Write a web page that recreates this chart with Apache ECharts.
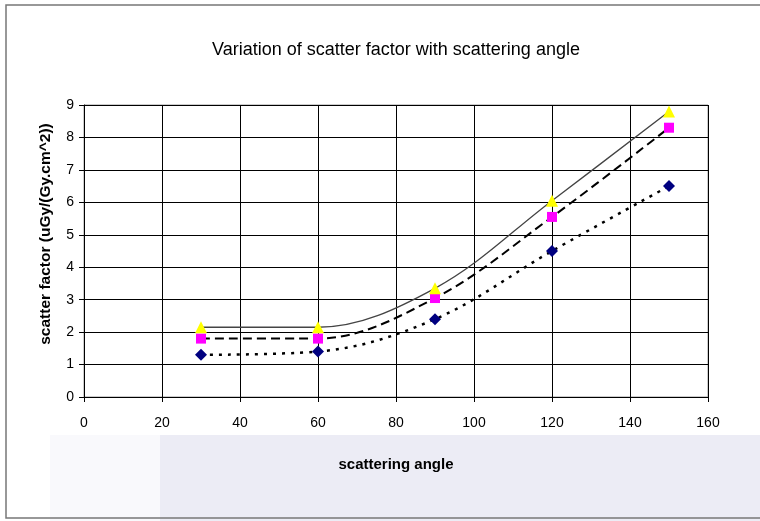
<!DOCTYPE html>
<html><head><meta charset="utf-8">
<script src="https://cdn.jsdelivr.net/npm/echarts@6/dist/echarts.min.js"></script>
<style>html,body{margin:0;padding:0;background:#fff}#c{width:760px;height:521px}</style>
</head><body><div id="c"></div>
<script>
const angles = [30, 60, 90, 120, 150];
const seriesTriangle = [2.15, 2.15, 3.35, 6.05, 8.8];
const seriesSquare = [1.8, 1.8, 3.05, 5.55, 8.3];
const seriesDiamond = [1.3, 1.4, 2.4, 4.5, 6.5];
const xTicks = [0, 20, 40, 60, 80, 100, 120, 140, 160];
const yTicks = [0, 1, 2, 3, 4, 5, 6, 7, 8, 9];

const FONT = '"Liberation Sans", Arial, sans-serif';
const pair = a => angles.map((x, i) => [x, a[i]]);

const chart = echarts.init(document.getElementById('c'), null, {renderer: 'canvas'});
chart.setOption({
  animation: false,
  backgroundColor: '#fff',
  title: {
    text: 'Variation of scatter factor with scattering angle',
    left: 391, top: 36, textAlign: 'center',
    textStyle: {fontFamily: FONT, fontSize: 18, fontWeight: 'normal', color: '#000'}
  },
  graphic: [
    {type: 'rect', silent: true, z: -11, shape: {x: 50, y: 435, width: 110, height: 90}, style: {fill: '#f9f9fc'}},
    {type: 'rect', silent: true, z: -10, shape: {x: 160, y: 435, width: 610, height: 90}, style: {fill: '#ececf5'}},
    {type: 'rect', silent: true, z: -9, shape: {x: 6, y: 5, width: 770, height: 513}, style: {fill: 'none', stroke: '#777', lineWidth: 1.5}},
    {type: 'text', silent: true, x: 46, y: 234, rotation: Math.PI / 2,
      style: {text: 'scatter factor (uGy/(Gy.cm^2))', fontFamily: FONT, fontSize: 15.5, fontWeight: 'bold', fill: '#000', align: 'center', verticalAlign: 'middle'}}
  ],
  grid: {left: 84, right: 52, top: 105, bottom: 124, show: true, borderColor: '#999', borderWidth: 1},
  xAxis: {
    type: 'value', min: 0, max: 160, interval: 20,
    name: 'scattering angle', nameLocation: 'middle', nameGap: 60,
    nameTextStyle: {fontFamily: FONT, fontSize: 15, fontWeight: 'bold', color: '#000'},
    axisLine: {show: true, lineStyle: {color: '#000', width: 1}},
    axisTick: {show: true, length: 5, lineStyle: {color: '#000'}},
    axisLabel: {fontFamily: FONT, fontSize: 14, color: '#000', margin: 19},
    splitLine: {show: true, lineStyle: {color: '#000', width: 1}}
  },
  yAxis: {
    type: 'value', min: 0, max: 9, interval: 1,
    axisLine: {show: true, lineStyle: {color: '#000', width: 1}},
    axisTick: {show: true, length: 5, lineStyle: {color: '#000'}},
    axisLabel: {fontFamily: FONT, fontSize: 14, color: '#000', margin: 10},
    splitLine: {show: true, lineStyle: {color: '#000', width: 1}}
  },
  series: [
    {
      type: 'line', data: pair(seriesDiamond), smooth: 0.35,
      symbol: 'diamond', symbolSize: 12,
      itemStyle: {color: '#000080'},
      lineStyle: {color: '#000', width: 2.5, type: [3, 6]}, z: 3
    },
    {
      type: 'line', data: pair(seriesSquare), smooth: 0.35,
      symbol: 'rect', symbolSize: 10,
      itemStyle: {color: '#ff00ff'},
      lineStyle: {color: '#000', width: 2, type: [9, 5]}, z: 4
    },
    {
      type: 'line', data: pair(seriesTriangle), smooth: 0.35,
      symbol: 'triangle', symbolSize: 12,
      itemStyle: {color: '#ffff00'},
      lineStyle: {color: '#444', width: 1.3, type: 'solid'}, z: 5
    }
  ]
});
</script></body></html>
